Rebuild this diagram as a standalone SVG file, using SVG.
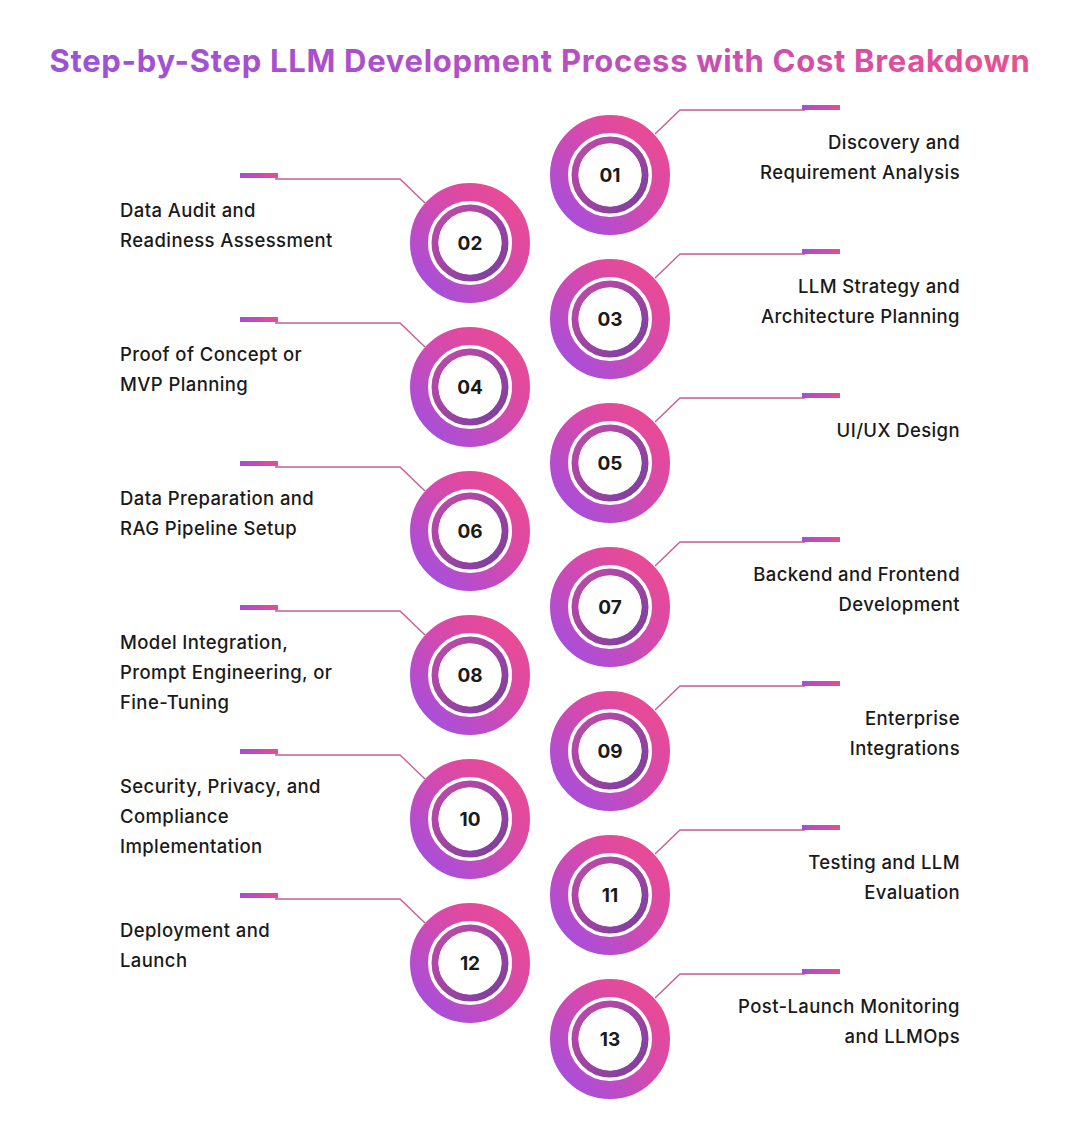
<svg xmlns="http://www.w3.org/2000/svg" width="1080" height="1139" viewBox="0 0 1080 1139">
<defs>
<linearGradient id="tg" x1="0" y1="0" x2="1" y2="0"><stop offset="0" stop-color="#9b52d6"/><stop offset="0.5" stop-color="#b54fc4"/><stop offset="1" stop-color="#e8508f"/></linearGradient>
<linearGradient id="og" x1="0" y1="1" x2="1" y2="0"><stop offset="0" stop-color="#a24fe0"/><stop offset="0.6" stop-color="#d84aa8"/><stop offset="1" stop-color="#ee4a90"/></linearGradient>
<linearGradient id="ig" x1="0" y1="0" x2="1" y2="1"><stop offset="0" stop-color="#c24aa8"/><stop offset="1" stop-color="#7b3f9e"/></linearGradient>
<linearGradient id="bg" x1="0" y1="0" x2="1" y2="0"><stop offset="0" stop-color="#a050d8"/><stop offset="1" stop-color="#ea4a92"/></linearGradient>
<g id="c">
<circle r="51" fill="none" stroke="url(#og)" stroke-width="18"/>
<circle r="35" fill="none" stroke="url(#ig)" stroke-width="7"/>
<circle r="31.5" fill="#fff"/>
</g>
</defs>
<style>
.t{font-family:Inter,"Noto Sans",sans-serif;font-size:18.5px;font-weight:500;fill:#1a1a1a;letter-spacing:0.4px}
.r{text-anchor:end}
.n{font-family:Inter,"Noto Sans",sans-serif;font-size:19px;font-weight:700;fill:#1a1a1a;text-anchor:middle}
.l{fill:none;stroke:#c85a92;stroke-width:1.3}
</style>
<rect width="1080" height="1139" fill="#fff"/>
<text x="540" y="72" text-anchor="middle" font-family="Inter,'Noto Sans',sans-serif" font-size="31" font-weight="700" letter-spacing="0.7" fill="url(#tg)">Step-by-Step LLM Development Process with Cost Breakdown</text>
<g id="connectors">
<path class="l" d="M655,134 L680,110 H805 M655,278 L680,254 H805 M655,422 L680,398 H805 M655,566 L680,542 H805 M655,710 L680,686 H805 M655,854 L680,830 H805 M655,998 L680,974 H805"/>
<path class="l" d="M275,179 H400 L425,203 M275,323 H400 L425,347 M275,467 H400 L425,491 M275,611 H400 L425,635 M275,755 H400 L425,779 M275,899 H400 L425,923"/>
<g fill="url(#bg)">
<rect x="802" y="105" width="38" height="5"/><rect x="802" y="249" width="38" height="5"/><rect x="802" y="393" width="38" height="5"/><rect x="802" y="537" width="38" height="5"/><rect x="802" y="681" width="38" height="5"/><rect x="802" y="825" width="38" height="5"/><rect x="802" y="969" width="38" height="5"/>
<rect x="240" y="173" width="38" height="5"/><rect x="240" y="317" width="38" height="5"/><rect x="240" y="461" width="38" height="5"/><rect x="240" y="605" width="38" height="5"/><rect x="240" y="749" width="38" height="5"/><rect x="240" y="893" width="38" height="5"/>
</g>
</g>
<g id="s01"><use href="#c" x="610" y="175"/><text class="n" x="610" y="182">01</text><text class="t r" x="960" y="149">Discovery and</text><text class="t r" x="960" y="179">Requirement Analysis</text></g>
<g id="s02"><use href="#c" x="470" y="243"/><text class="n" x="470" y="250">02</text><text class="t" x="120" y="217">Data Audit and</text><text class="t" x="120" y="247">Readiness Assessment</text></g>
<g id="s03"><use href="#c" x="610" y="319"/><text class="n" x="610" y="326">03</text><text class="t r" x="960" y="293">LLM Strategy and</text><text class="t r" x="960" y="323">Architecture Planning</text></g>
<g id="s04"><use href="#c" x="470" y="387"/><text class="n" x="470" y="394">04</text><text class="t" x="120" y="361">Proof of Concept or</text><text class="t" x="120" y="391">MVP Planning</text></g>
<g id="s05"><use href="#c" x="610" y="463"/><text class="n" x="610" y="470">05</text><text class="t r" x="960" y="437">UI/UX Design</text></g>
<g id="s06"><use href="#c" x="470" y="531"/><text class="n" x="470" y="538">06</text><text class="t" x="120" y="505">Data Preparation and</text><text class="t" x="120" y="535">RAG Pipeline Setup</text></g>
<g id="s07"><use href="#c" x="610" y="607"/><text class="n" x="610" y="614">07</text><text class="t r" x="960" y="581">Backend and Frontend</text><text class="t r" x="960" y="611">Development</text></g>
<g id="s08"><use href="#c" x="470" y="675"/><text class="n" x="470" y="682">08</text><text class="t" x="120" y="649">Model Integration,</text><text class="t" x="120" y="679">Prompt Engineering, or</text><text class="t" x="120" y="709">Fine-Tuning</text></g>
<g id="s09"><use href="#c" x="610" y="751"/><text class="n" x="610" y="758">09</text><text class="t r" x="960" y="725">Enterprise</text><text class="t r" x="960" y="755">Integrations</text></g>
<g id="s10"><use href="#c" x="470" y="819"/><text class="n" x="470" y="826">10</text><text class="t" x="120" y="793">Security, Privacy, and</text><text class="t" x="120" y="823">Compliance</text><text class="t" x="120" y="853">Implementation</text></g>
<g id="s11"><use href="#c" x="610" y="895"/><text class="n" x="610" y="902">11</text><text class="t r" x="960" y="869">Testing and LLM</text><text class="t r" x="960" y="899">Evaluation</text></g>
<g id="s12"><use href="#c" x="470" y="963"/><text class="n" x="470" y="970">12</text><text class="t" x="120" y="937">Deployment and</text><text class="t" x="120" y="967">Launch</text></g>
<g id="s13"><use href="#c" x="610" y="1039"/><text class="n" x="610" y="1046">13</text><text class="t r" x="960" y="1013">Post-Launch Monitoring</text><text class="t r" x="960" y="1043">and LLMOps</text></g>
</svg>
